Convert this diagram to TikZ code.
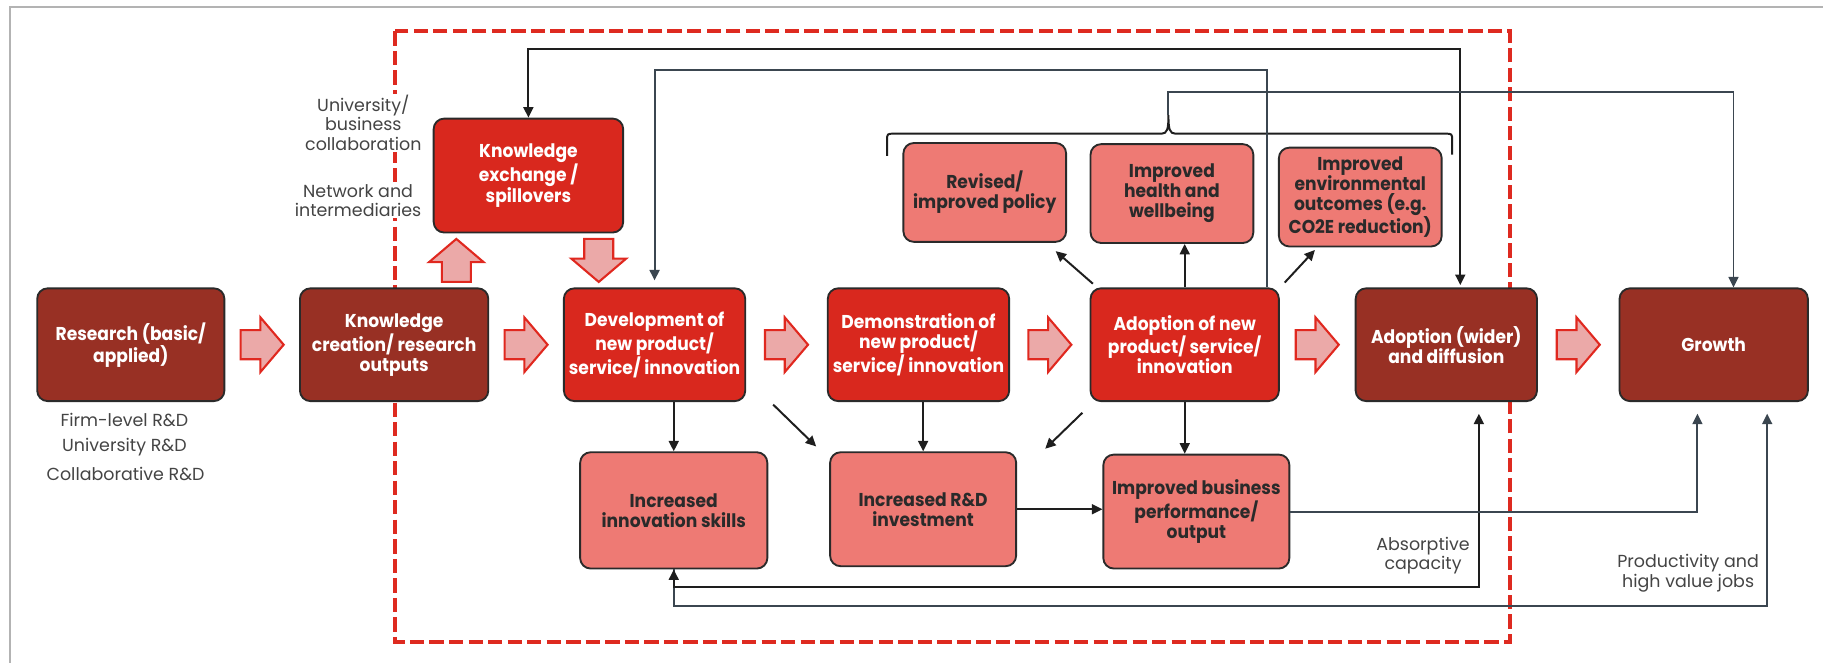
\documentclass[tikz,border=0pt]{standalone}
\usepackage{fontspec}
\setmainfont{Poppins}
\newfontfamily\boxfamily{Poppins}[FakeStretch=0.92]
\usetikzlibrary{arrows.meta,calc}

\definecolor{darkbox}{HTML}{983024}
\definecolor{redbox}{HTML}{D9281E}
\definecolor{pinkbox}{HTML}{EE7A74}
\definecolor{boxline}{HTML}{2A2A2A}
\definecolor{slate}{HTML}{3B4650}
\definecolor{ink}{HTML}{1E1E1E}
\definecolor{labelgray}{HTML}{444444}
\definecolor{fatfill}{HTML}{EBA9A8}
\definecolor{fatedge}{HTML}{E0281F}
\definecolor{dashred}{HTML}{DE2A20}
\definecolor{framegray}{HTML}{B3B3B3}

\newcommand\boxfont{\boxfamily\fontsize{16}{17.2}\selectfont\bfseries}
\newcommand\notefont{\fontsize{15}{16.8}\selectfont}

\tikzset{
  box/.style={draw=boxline, line width=1.6pt, rounded corners=9pt, align=center,
              inner sep=0pt, font=\boxfont},
  darkb/.style={box, fill=darkbox, text=white},
  redb/.style={box, fill=redbox, text=white},
  pinkb/.style={box, fill=pinkbox, text=boxline},
  note/.style={align=center, text=labelgray, font=\notefont, inner sep=1pt},
  tip/.tip={Triangle[length=9pt,width=8.5pt]},
  link/.style={draw=ink, line width=1.7pt, -tip},
  slink/.style={draw=slate, line width=1.7pt, -tip},
  fatarrow/.pic={
    \draw[fatedge, line width=1.8pt, fill=fatfill, line join=miter]
      (-18.5,-12.5) -- (-1.5,-12.5) -- (-1.5,-23.5) -- (18.5,0)
      -- (-1.5,23.5) -- (-1.5,12.5) -- (-18.5,12.5) -- cycle;
  }
}

\begin{document}
\begin{tikzpicture}[x=1pt,y=-1pt]
\useasboundingbox (0,0) rectangle (1568,570);

% page frame and the dashed boundary
\draw[framegray, line width=2pt] (8.5,570) -- (8.5,6) -- (1568,6);
\draw[dashred, line width=3.6pt, dash pattern=on 12.3pt off 4.5pt] (340,27) rectangle (1299,552);

% side notes on the left
\node[note, fill=white] (collab) at (312.5,105.5) {University/\\business\\collaboration};
\node[note, fill=white] (netw) at (308,172.5) {Network and\\intermediaries};
\node[note] (firm) at (107,361) {Firm-level R\&D};
\node[note] (unird) at (107,384.5) {University R\&D};
\node[note] (collrd) at (108,408) {Collaborative R\&D};

% main chain
\node[darkb, minimum width=161pt, minimum height=97pt] (res) at (112.5,296.5) {Research (basic/\\applied)};
\node[darkb, minimum width=162pt, minimum height=97pt] (kc) at (339,296.5) {Knowledge\\creation/ research\\outputs};
\node[redb, minimum width=163pt, minimum height=98pt] (ke) at (454.5,151) {Knowledge\\exchange /\\spillovers};
\node[redb, minimum width=156pt, minimum height=97pt] (dev) at (563,296.5) {Development of\\new product/\\service/ innovation};
\node[redb, minimum width=156pt, minimum height=97pt] (demo) at (790,296.5) {Demonstration of\\new product/\\service/ innovation};
\node[redb, minimum width=162pt, minimum height=97pt] (adopt) at (1019,296.5) {Adoption of new\\product/ service/\\innovation};
\node[darkb, minimum width=156pt, minimum height=97pt] (wider) at (1244,296.5) {Adoption (wider)\\and diffusion};
\node[darkb, minimum width=162pt, minimum height=97pt] (growth) at (1474,296.5) {Growth};

% outcome boxes
\node[pinkb, minimum width=161pt, minimum height=100pt] (skills) at (579.5,439) {Increased\\innovation skills};
\node[pinkb, minimum width=160pt, minimum height=98pt] (rd) at (794,438) {Increased R\&D\\investment};
\node[pinkb, minimum width=160pt, minimum height=98pt] (biz) at (1029,440) {Improved business\\performance/\\output};
\node[pinkb, minimum width=140pt, minimum height=85pt] (policy) at (847,165.5) {Revised/\\improved policy};
\node[pinkb, minimum width=140pt, minimum height=85pt] (health) at (1008,166.5) {Improved\\health and\\wellbeing};
\node[pinkb, minimum width=140pt, minimum height=85pt] (env) at (1170,169.5) {Improved\\environmental\\outcomes (e.g.\\CO2E reduction)};

% block arrows along the chain
\pic at ($(res.east)!0.5!(kc.west)$) {fatarrow};
\pic at ($(kc.east)!0.5!(dev.west)$) {fatarrow};
\pic at ($(dev.east)!0.5!(demo.west)$) {fatarrow};
\pic at ($(demo.east)!0.5!(adopt.west)$) {fatarrow};
\pic at ($(adopt.east)!0.5!(wider.west)$) {fatarrow};
\pic at ($(wider.east)!0.5!(growth.west)$) {fatarrow};
\pic[rotate=90] at (392.5,224) {fatarrow};
\pic[rotate=-90] at (515,224) {fatarrow};

% brace over the wider outcomes
\coordinate (bracetip) at (1005,99);
\draw[ink, line width=1.7pt]
  (763,134) -- (763,121) .. controls (763,115) .. (769,115) -- (999,115)
  .. controls (1004,115) and (1005,111) .. (bracetip)
  .. controls (1005,111) and (1006,115) .. (1011,115) -- (1243,115)
  .. controls (1249,115) .. (1249,121) -- (1249,133);

% long feedback connectors along the top
\coordinate (wtop) at ([xshift=12pt]wider.north);
\draw[link, tip-tip, shorten >=2pt] (ke.north) |- (wtop |- 0,42) -- (wtop);
\coordinate (atop) at ([xshift=71pt]adopt.north);
\draw[slink, shorten >=6pt] (atop) -- (atop |- 0,60) -| (dev.north);
\coordinate (gtop) at ([xshift=17pt]growth.north);
\draw[slink] (bracetip) -- (bracetip |- 0,79) -| (gtop);

% long connectors along the bottom
\coordinate (wbot) at ([xshift=28pt]wider.south);
\coordinate (gbot) at ([xshift=46pt]growth.south);
\coordinate (gbiz) at ([xshift=-14pt]growth.south);
\draw[slink, shorten >=10pt] (skills.south) |- (gbot |- 0,521) -- (gbot);
\draw[link, tip-tip, shorten >=10pt] (skills.south) |- (wbot |- 0,505) -- (wbot);
\draw[slink, shorten >=10pt] (biz.east) -| (gbiz);
\node[note] (absorb) at (1224,478) {Absorptive\\capacity};
\node[note] (prodjobs) at (1452,493) {Productivity and\\high value jobs};

% short links between boxes
\draw[link] (dev.south -| skills.north) -- (skills.north);
\draw[link] (rd.north |- demo.south) -- (rd.north);
\draw[link] (adopt.south) -- (adopt.south |- biz.north);
\draw[link] (rd.east) -- (rd.east -| biz.west);
\draw[link] (adopt.north) -- (adopt.north |- health.south);
\coordinate (d1a) at (665,348);  \coordinate (d1b) at (702,384);
\coordinate (d2a) at (931,355);  \coordinate (d2b) at (899,386);
\coordinate (d3a) at (940,244);  \coordinate (d3b) at (908,216);
\coordinate (d4a) at (1105,243); \coordinate (d4b) at (1131,215);
\draw[link] (d1a) -- (d1b);
\draw[link] (d2a) -- (d2b);
\draw[link] (d3a) -- (d3b);
\draw[link] (d4a) -- (d4b);
\end{tikzpicture}
\end{document}
